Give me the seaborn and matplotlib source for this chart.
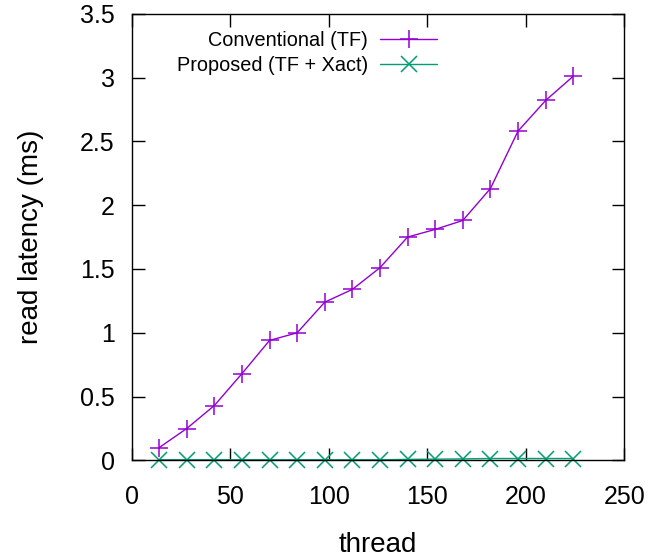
import matplotlib
matplotlib.use("Agg")
import matplotlib.pyplot as plt
import numpy as np
import pandas as pd
import seaborn as sns

threads = [14, 28, 42, 56, 70, 84, 98, 112, 126, 140, 154, 168, 182, 196, 210, 224]
conventional = [0.10, 0.25, 0.43, 0.68, 0.94, 1.00, 1.24, 1.34, 1.51, 1.75,
                1.81, 1.88, 2.13, 2.58, 2.82, 3.01]
proposed = [0.005, 0.005, 0.005, 0.005, 0.005, 0.005, 0.005, 0.005, 0.005, 0.008,
            0.01, 0.012, 0.015, 0.015, 0.015, 0.015]

x_ticks = [0, 50, 100, 150, 200, 250]
y_ticks = [0, 0.5, 1, 1.5, 2, 2.5, 3, 3.5]
y_labels = ["0", "0.5", "1", "1.5", "2", "2.5", "3", "3.5"]

black = {"axes.edgecolor": "black", "text.color": "black",
         "axes.labelcolor": "black", "xtick.color": "black",
         "ytick.color": "black"}
sns.set_style("ticks", black)
plt.rcParams['font.family'] = ['Liberation Sans', 'DejaVu Sans']

df = pd.DataFrame({"thread": threads, "conv": conventional, "prop": proposed})

fig = plt.figure(figsize=(6.52, 5.57), dpi=100)
ax = fig.add_axes([0.2017, 0.1734, 0.7561, 0.802])

purple = "#9400D3"
green = "#009E73"
sns.lineplot(data=df, x="thread", y="conv", ax=ax, color=purple, lw=1,
             marker="+", markersize=13, markeredgewidth=1.1,
             markeredgecolor=purple, label="Conventional (TF)")
sns.lineplot(data=df, x="thread", y="prop", ax=ax, color=green, lw=1,
             marker="x", markersize=12, markeredgewidth=1.1,
             markeredgecolor=green, label="Proposed (TF + Xact)", clip_on=False)

ax.set_xlim(0, 250)
ax.set_ylim(0, 3.5)
ax.set_xticks(x_ticks)
ax.set_yticks(y_ticks)
ax.set_yticklabels(y_labels)
ax.tick_params(direction="in", top=True, right=True, length=9, width=1,
               labelsize=18)
ax.tick_params(axis="x", pad=17.5)
ax.tick_params(axis="y", pad=12)
for s in ax.spines.values():
    s.set_linewidth(1)
    s.set_color("black")

ax.set_xlabel("thread", fontsize=20, labelpad=17)
ax.set_ylabel("read latency (ms)", fontsize=20, labelpad=26)

ax.legend(loc="upper right", bbox_to_anchor=(0.62, 0.962), frameon=False,
          markerfirst=False, fontsize=14.3, handlelength=2.87,
          handletextpad=0.6, labelspacing=0.3, borderpad=0, borderaxespad=0)

fig.savefig("out.png", dpi=100)
